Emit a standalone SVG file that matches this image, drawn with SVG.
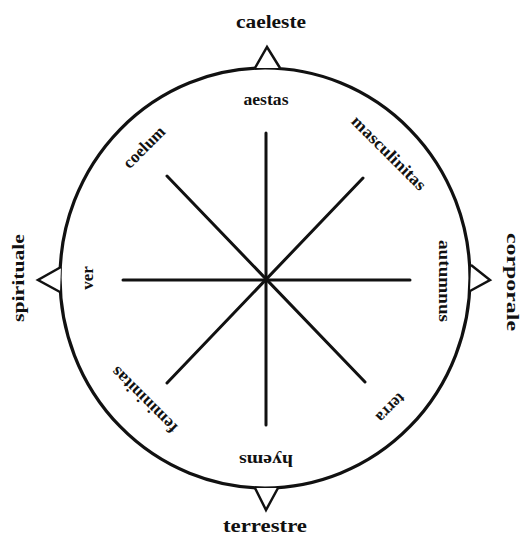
<svg xmlns="http://www.w3.org/2000/svg" width="522" height="537" viewBox="0 0 522 537">
<style>
.lbl{font-family:"Liberation Serif","Times New Roman",serif;font-weight:bold;fill:#111;text-anchor:middle}
.big{font-size:18px}
.sm{font-size:17px}
.spoke{stroke:#111;stroke-width:3;stroke-linecap:round;fill:none}
.ring{stroke:#111;stroke-width:3.2;fill:none}
.tri{stroke:#111;stroke-width:2.5;fill:#fff;stroke-linejoin:miter}
</style>
<rect width="522" height="537" fill="#fff"/>
<g id="circle">
<ellipse class="ring" cx="265" cy="278" rx="205" ry="210"/>
</g>
<g id="connectors">
<line class="spoke" x1="266" y1="133" x2="266" y2="425"/>
<line class="spoke" x1="123" y1="280" x2="410" y2="280"/>
<line class="spoke" x1="167" y1="176" x2="365" y2="382"/>
<line class="spoke" x1="363" y1="178" x2="167" y2="383"/>
</g>
<g id="tri-top"><polyline class="tri" points="255,68 267,47 280,68"/></g>
<g id="tri-left"><polyline class="tri" points="61,267 38,280 60,292"/></g>
<g id="tri-right"><polyline class="tri" points="471,265 490,280 470,291"/></g>
<g id="tri-bottom"><polyline class="tri" points="255,488 266,510 278,488"/></g>
<g id="caeleste"><text class="lbl big" x="271" y="28" textLength="70" lengthAdjust="spacingAndGlyphs">caeleste</text></g>
<g id="terrestre"><text class="lbl big" x="265" y="532" textLength="84" lengthAdjust="spacingAndGlyphs">terrestre</text></g>
<g id="spirituale"><text class="lbl sm" transform="translate(24,278) rotate(-90)" textLength="88" lengthAdjust="spacingAndGlyphs">spirituale</text></g>
<g id="corporale"><text class="lbl sm" transform="translate(507,282) rotate(90)" textLength="98" lengthAdjust="spacingAndGlyphs">corporale</text></g>
<g id="aestas"><text class="lbl sm" x="266" y="105" textLength="45" lengthAdjust="spacingAndGlyphs">aestas</text></g>
<g id="hyems"><text class="lbl sm" transform="translate(266,455) rotate(180)" textLength="54" lengthAdjust="spacingAndGlyphs">hyems</text></g>
<g id="ver"><text class="lbl sm" transform="translate(93,278) rotate(-90)">ver</text></g>
<g id="autumnus"><text class="lbl sm" transform="translate(439,281) rotate(90)" textLength="82" lengthAdjust="spacingAndGlyphs">autumnus</text></g>
<g id="coelum"><text class="lbl sm" transform="translate(148,151) rotate(-45)" textLength="52" lengthAdjust="spacingAndGlyphs">coelum</text></g>
<g id="masculinitas"><text class="lbl sm" transform="translate(385,157) rotate(45)" textLength="98" lengthAdjust="spacingAndGlyphs">masculinitas</text></g>
<g id="femininitas"><text class="lbl sm" transform="translate(148,396) rotate(-135)" textLength="86" lengthAdjust="spacingAndGlyphs">femininitas</text></g>
<g id="terra"><text class="lbl sm" transform="translate(387,404) rotate(135)" textLength="34" lengthAdjust="spacingAndGlyphs">terra</text></g>
</svg>
